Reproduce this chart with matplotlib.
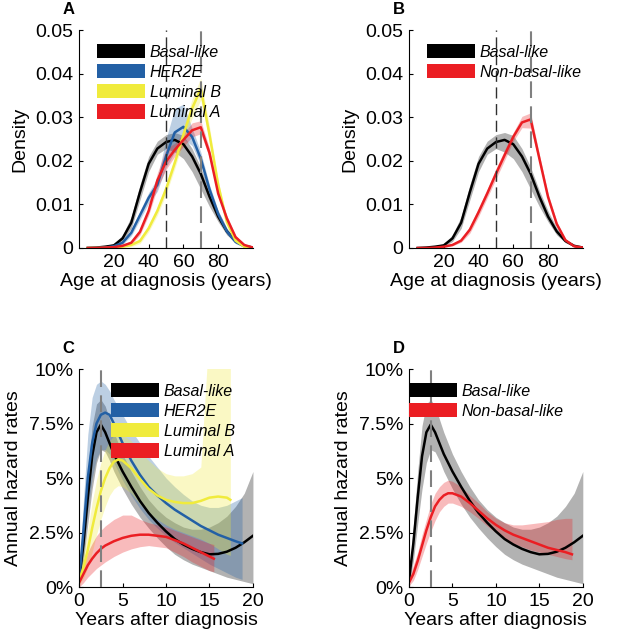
import matplotlib
matplotlib.use("Agg")
import matplotlib.pyplot as plt
from matplotlib.patches import Patch

plt.rcParams["font.family"] = ["Liberation Sans", "DejaVu Sans"]

# ---- panel A / B: age density ----
ages = [5, 10, 15, 20, 25, 30, 35, 40, 45, 50, 55, 60, 65, 70, 75, 80, 85, 90, 95, 100]

basal_dens = [0, 0.0001, 0.0003, 0.0006, 0.0022, 0.0058, 0.0128, 0.0193, 0.0228, 0.0243,
              0.0248, 0.0238, 0.021, 0.017, 0.0118, 0.0072, 0.0038, 0.0016, 0.0005, 0.0001]
basal_dens_lo = [0, 0, 0.0001, 0.0003, 0.0015, 0.0045, 0.011, 0.0175, 0.0215, 0.0228,
                 0.022, 0.0205, 0.0175, 0.0135, 0.0095, 0.006, 0.003, 0.0012, 0.0003, 0]
basal_dens_hi = [0.0001, 0.0002, 0.0005, 0.001, 0.003, 0.0072, 0.0145, 0.021, 0.0245, 0.026,
                 0.0265, 0.0258, 0.0228, 0.0185, 0.0132, 0.0085, 0.0046, 0.002, 0.0007, 0.0002]

her2_dens = [0, 0, 0.0001, 0.0004, 0.0012, 0.0035, 0.0075, 0.0115, 0.0145, 0.021,
             0.0265, 0.0278, 0.0255, 0.0205, 0.0135, 0.0078, 0.0038, 0.0014, 0.0004, 0]
her2_dens_lo = [0, 0, 0, 0.0002, 0.0008, 0.0028, 0.0065, 0.0103, 0.013, 0.0185,
                0.022, 0.025, 0.0235, 0.019, 0.0125, 0.007, 0.0032, 0.001, 0.0002, 0]
her2_dens_hi = [0, 0.0001, 0.0002, 0.0006, 0.0016, 0.0042, 0.0085, 0.0127, 0.016, 0.025,
                0.032, 0.033, 0.0275, 0.022, 0.0145, 0.0086, 0.0044, 0.0018, 0.0006, 0.0001]

lumb_dens = [0, 0, 0, 0.0001, 0.0003, 0.0007, 0.0016, 0.0045, 0.0085, 0.0135,
             0.0195, 0.026, 0.032, 0.0365, 0.026, 0.0145, 0.006, 0.0017, 0.0003, 0]
lumb_dens_lo = [0, 0, 0, 0, 0.0001, 0.0003, 0.001, 0.0037, 0.0075, 0.0123,
                0.0182, 0.0245, 0.0298, 0.034, 0.0245, 0.0135, 0.0053, 0.0013, 0.0001, 0]
lumb_dens_hi = [0, 0, 0.0001, 0.0002, 0.0005, 0.0011, 0.0022, 0.0053, 0.0095, 0.0147,
                0.0208, 0.0275, 0.0342, 0.039, 0.0278, 0.0155, 0.0067, 0.0021, 0.0005, 0.0001]

luma_dens = [0, 0, 0.0001, 0.0002, 0.0005, 0.0012, 0.0037, 0.0085, 0.0155, 0.0198,
             0.0225, 0.0248, 0.027, 0.0277, 0.0218, 0.0125, 0.0068, 0.0025, 0.0007, 0.0001]
luma_dens_lo = [0, 0, 0, 0.0001, 0.0003, 0.0008, 0.003, 0.0075, 0.0138, 0.018,
                0.021, 0.0233, 0.0255, 0.0262, 0.0207, 0.0118, 0.0062, 0.0021, 0.0005, 0]
luma_dens_hi = [0, 0.0001, 0.0002, 0.0004, 0.0008, 0.0016, 0.0044, 0.0095, 0.0172, 0.0228,
                0.024, 0.0262, 0.0287, 0.0292, 0.0229, 0.0132, 0.0074, 0.0029, 0.0009, 0.0002]

nonbasal_dens = [0, 0, 0.0001, 0.0003, 0.0007, 0.0017, 0.0042, 0.0082, 0.0125, 0.017,
                 0.0213, 0.0255, 0.0288, 0.0295, 0.0205, 0.0117, 0.0055, 0.0018, 0.0004, 0.0001]
nonbasal_dens_lo = [0, 0, 0, 0.0002, 0.0005, 0.0013, 0.0034, 0.0072, 0.0115, 0.0158,
                    0.0201, 0.0245, 0.0276, 0.0275, 0.0195, 0.0109, 0.0049, 0.0015, 0.0003, 0]
nonbasal_dens_hi = [0, 0.0001, 0.0002, 0.0004, 0.0009, 0.0021, 0.005, 0.0092, 0.0135, 0.0182,
                    0.0225, 0.0265, 0.0302, 0.031, 0.0215, 0.0125, 0.0061, 0.0021, 0.0005, 0.0001]

# ---- panel C / D: annual hazard (%) ----
yrs_basal = [0, 0.5, 1, 1.5, 2, 2.5, 3, 3.5, 4, 5, 6, 7, 8, 9, 10, 11, 12, 13, 14, 15, 16, 17, 18, 19, 20]
basal_haz = [0.3, 2.0, 4.1, 6.0, 7.1, 7.45, 7.1, 6.6, 6.1, 5.3, 4.6, 3.95, 3.4, 2.95, 2.55,
             2.2, 1.95, 1.75, 1.6, 1.5, 1.52, 1.62, 1.8, 2.05, 2.35]
basal_haz_lo = [0.1, 1.2, 2.9, 4.5, 5.7, 6.3, 6.2, 5.8, 5.3, 4.5, 3.8, 3.2, 2.7, 2.25, 1.85,
                1.5, 1.25, 1.05, 0.9, 0.75, 0.6, 0.45, 0.35, 0.25, 0.15]
basal_haz_hi = [0.5, 2.8, 5.3, 7.4, 8.4, 8.6, 8.3, 7.7, 7.1, 6.1, 5.3, 4.6, 4.0, 3.55, 3.2,
                2.95, 2.75, 2.65, 2.65, 2.75, 2.95, 3.25, 3.7, 4.3, 5.3]

yrs_her2 = [0, 0.5, 1, 1.5, 2, 2.5, 3, 3.5, 4, 5, 6, 7, 8, 9, 10, 11, 12, 13, 14, 15, 16, 17, 18, 18.75]
her2_haz = [0.3, 2.6, 5.0, 6.6, 7.5, 7.9, 8.0, 7.9, 7.5, 6.6, 5.8, 5.15, 4.6, 4.2, 3.85,
            3.55, 3.3, 3.05, 2.8, 2.6, 2.4, 2.25, 2.1, 2.0]
her2_haz_lo = [0.1, 1.5, 3.5, 5.0, 5.9, 6.3, 6.3, 6.1, 5.7, 4.9, 4.2, 3.6, 3.1, 2.7, 2.35,
               2.05, 1.8, 1.55, 1.3, 1.05, 0.85, 0.65, 0.45, 0.35]
her2_haz_hi = [0.6, 4.0, 7.0, 8.7, 9.3, 9.45, 9.3, 9.0, 8.6, 7.9, 7.2, 6.6, 6.0, 5.5, 5.0,
               4.6, 4.25, 3.95, 3.75, 3.65, 3.65, 3.75, 3.95, 4.1]

yrs_lumb = [0, 0.5, 1, 1.5, 2, 2.5, 3, 3.5, 4, 4.5, 5, 6, 7, 8, 9, 10, 11, 12, 13, 14, 15, 16, 17, 17.4]
lumb_haz = [0.3, 0.9, 1.7, 2.7, 3.6, 4.4, 5.0, 5.45, 5.75, 5.85, 5.8, 5.45, 4.95, 4.5, 4.2,
            4.0, 3.9, 3.85, 3.85, 3.95, 4.1, 4.15, 4.1, 4.0]
lumb_haz_lo = [0.1, 0.4, 0.9, 1.6, 2.4, 3.1, 3.7, 4.2, 4.5, 4.65, 4.6, 4.3, 3.8, 3.4, 3.1,
               2.85, 2.65, 2.5, 2.35, 2.2, 2.0, 1.75, 1.5, 1.45]
lumb_haz_hi = [0.6, 1.5, 2.6, 3.9, 4.9, 5.7, 6.3, 6.7, 6.95, 7.05, 7.0, 6.7, 6.2, 5.8, 5.45,
               5.2, 5.1, 5.1, 5.2, 5.5, 12.0, 14.0, 14.0, 14.0]

yrs_luma = [0, 0.5, 1, 1.5, 2, 2.5, 3, 4, 5, 6, 7, 8, 9, 10, 11, 12, 13, 14, 15, 15.5]
luma_haz = [0.2, 0.6, 1.0, 1.3, 1.55, 1.75, 1.9, 2.1, 2.25, 2.35, 2.4, 2.4, 2.35, 2.3,
            2.15, 2.0, 1.8, 1.6, 1.4, 1.3]
luma_haz_lo = [0.0, 0.2, 0.45, 0.65, 0.85, 1.0, 1.15, 1.4, 1.6, 1.75, 1.85, 1.9, 1.85, 1.8,
               1.6, 1.4, 1.15, 0.95, 0.75, 0.7]
luma_haz_hi = [0.5, 1.0, 1.6, 2.0, 2.35, 2.6, 2.8, 3.1, 3.3, 3.3, 3.1, 2.95, 2.85, 2.75,
               2.6, 2.45, 2.3, 2.15, 2.0, 1.95]

yrs_nonbasal = [0, 0.5, 1, 1.5, 2, 2.5, 3, 3.5, 4, 4.5, 5, 6, 7, 8, 9, 10, 11, 12, 13, 14, 15, 16, 17, 18, 18.75]
nonbasal_haz = [0.2, 0.6, 1.2, 1.9, 2.6, 3.2, 3.7, 4.0, 4.2, 4.3, 4.3, 4.15, 3.85, 3.5, 3.15,
                2.85, 2.6, 2.4, 2.25, 2.1, 1.95, 1.8, 1.7, 1.6, 1.5]
nonbasal_haz_lo = [0.05, 0.3, 0.8, 1.4, 2.0, 2.55, 3.05, 3.45, 3.7, 3.85, 3.85, 3.7, 3.45, 3.15,
                   2.8, 2.5, 2.2, 2.0, 1.85, 1.7, 1.6, 1.5, 1.4, 1.3, 1.25]
nonbasal_haz_hi = [0.4, 1.0, 1.6, 2.4, 3.1, 3.8, 4.3, 4.6, 4.8, 4.9, 4.85, 4.6, 4.2, 3.85, 3.45,
                   3.15, 2.95, 2.85, 2.85, 2.9, 2.95, 3.0, 3.1, 3.15, 3.15]

C_BASAL = "#000000"
C_HER2 = "#2360a5"
C_LUMB = "#f0eb3c"
C_LUMA = "#eb1e23"

FS = 14


def style(ax):
    for s in ["top", "right"]:
        ax.spines[s].set_visible(False)
    ax.tick_params(direction="in", length=3, labelsize=FS, pad=4)


def series(ax, x, y, lo, hi, color):
    ax.fill_between(x, lo, hi, color=color, alpha=0.3, linewidth=0)
    ax.plot(x, y, color=color, linewidth=1.8)


def legend(ax, names, colors, x, y):
    handles = [Patch(facecolor=c, edgecolor="none") for c in colors]
    ax.legend(handles, names, loc="upper left", bbox_to_anchor=(x, y), frameon=False,
              prop={"style": "italic", "size": 11.5}, handlelength=3.0, handleheight=1.0,
              handletextpad=0.3, labelspacing=0.28, borderpad=0, borderaxespad=0)


fig = plt.figure(figsize=(6.23, 6.4), dpi=100)
axA = fig.add_axes([0.127, 0.6125, 0.279, 0.3406])
axB = fig.add_axes([0.6565, 0.6125, 0.279, 0.3406])
axC = fig.add_axes([0.127, 0.0828, 0.279, 0.3406])
axD = fig.add_axes([0.6565, 0.0828, 0.279, 0.3406])

# A
series(axA, ages, basal_dens, basal_dens_lo, basal_dens_hi, C_BASAL)
series(axA, ages, her2_dens, her2_dens_lo, her2_dens_hi, C_HER2)
series(axA, ages, lumb_dens, lumb_dens_lo, lumb_dens_hi, C_LUMB)
series(axA, ages, luma_dens, luma_dens_lo, luma_dens_hi, C_LUMA)
legend(axA, ["Basal-like", "HER2E", "Luminal B", "Luminal A"],
       [C_BASAL, C_HER2, C_LUMB, C_LUMA], 0.103, 0.936)

# B
series(axB, ages, basal_dens, basal_dens_lo, basal_dens_hi, C_BASAL)
series(axB, ages, nonbasal_dens, nonbasal_dens_lo, nonbasal_dens_hi, C_LUMA)
legend(axB, ["Basal-like", "Non-basal-like"], [C_BASAL, C_LUMA], 0.103, 0.936)

for ax in (axA, axB):
    ax.axvline(50, color="#303030", linewidth=1, dashes=(8, 4), zorder=5)
    ax.axvline(70, color="#808080", linewidth=1.5, dashes=(8, 4), zorder=5)
    ax.set_xlim(0, 100)
    ax.set_ylim(0, 0.05)
    ax.set_xticks([20, 40, 60, 80])
    ax.set_yticks([0, 0.01, 0.02, 0.03, 0.04, 0.05])
    ax.set_yticklabels(["0", "0.01", "0.02", "0.03", "0.04", "0.05"])
    ax.set_xlabel("Age at diagnosis (years)", fontsize=FS, labelpad=2)
    ax.set_ylabel("Density", fontsize=FS, labelpad=5)
    style(ax)

# C
series(axC, yrs_basal, basal_haz, basal_haz_lo, basal_haz_hi, C_BASAL)
series(axC, yrs_her2, her2_haz, her2_haz_lo, her2_haz_hi, C_HER2)
series(axC, yrs_lumb, lumb_haz, lumb_haz_lo, lumb_haz_hi, C_LUMB)
series(axC, yrs_luma, luma_haz, luma_haz_lo, luma_haz_hi, C_LUMA)
legend(axC, ["Basal-like", "HER2E", "Luminal B", "Luminal A"],
       [C_BASAL, C_HER2, C_LUMB, C_LUMA], 0.184, 0.936)

# D
series(axD, yrs_basal, basal_haz, basal_haz_lo, basal_haz_hi, C_BASAL)
series(axD, yrs_nonbasal, nonbasal_haz, nonbasal_haz_lo, nonbasal_haz_hi, C_LUMA)
legend(axD, ["Basal-like", "Non-basal-like"], [C_BASAL, C_LUMA], 0.0, 0.936)

for ax in (axC, axD):
    ax.axvline(2.5, color="#808080", linewidth=1.5, dashes=(8, 4), zorder=5)
    ax.set_xlim(0, 20)
    ax.set_ylim(0, 10)
    ax.set_xticks([0, 5, 10, 15, 20])
    ax.set_yticks([0, 2.5, 5, 7.5, 10])
    ax.set_yticklabels(["0%", "2.5%", "5%", "7.5%", "10%"])
    ax.set_xlabel("Years after diagnosis", fontsize=FS, labelpad=2)
    ax.set_ylabel("Annual hazard rates", fontsize=FS, labelpad=5)
    style(ax)

for ax, letter in zip((axA, axB, axC, axD), "ABCD"):
    ax.text(-0.06, 1.073, letter, transform=ax.transAxes, ha="center", va="baseline",
            fontsize=12, fontweight="bold")

fig.savefig("out.png", dpi=100)
